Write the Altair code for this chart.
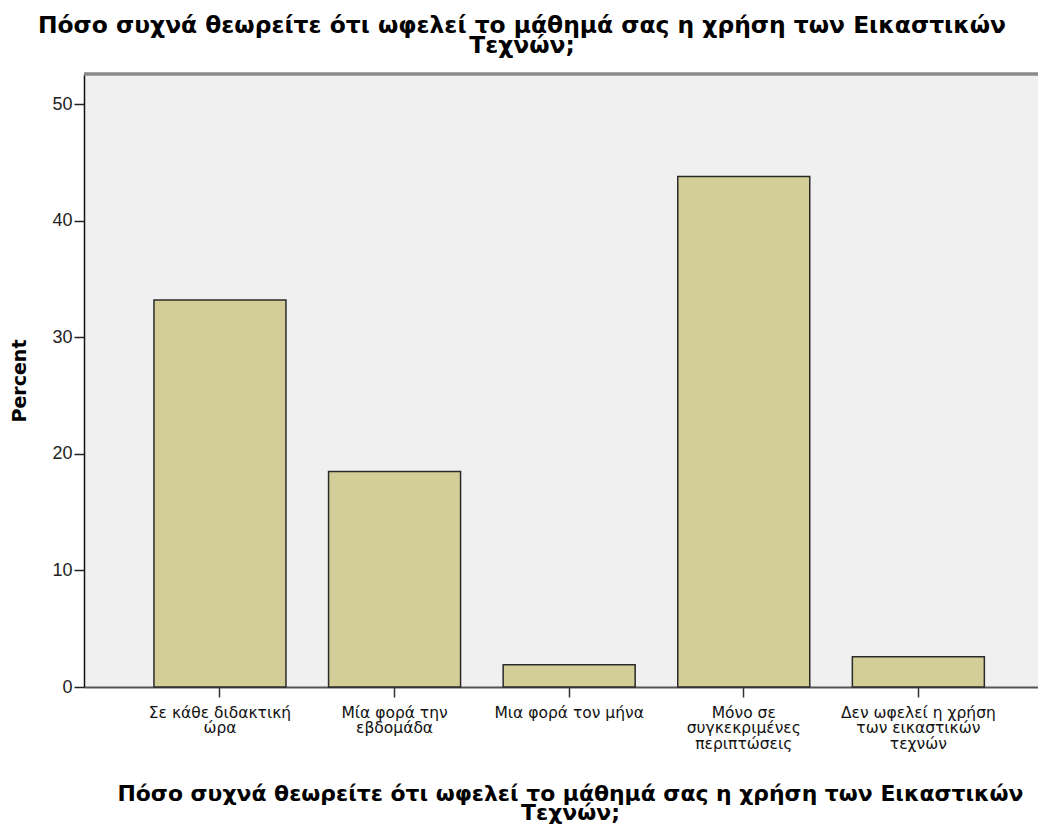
import altair as alt
import pandas as pd

categories = [
    "Σε κάθε διδακτική|ώρα",
    "Μία φορά την|εβδομάδα",
    "Μια φορά τον μήνα",
    "Μόνο σε|συγκεκριμένες|περιπτώσεις",
    "Δεν ωφελεί η χρήση|των εικαστικών|τεχνών",
]
percents = [33.2, 18.5, 1.9, 43.8, 2.6]
y_ticks = [0, 10, 20, 30, 40, 50]
title_lines = [
    "Πόσο συχνά θεωρείτε ότι ωφελεί το μάθημά σας η χρήση των Εικαστικών",
    "Τεχνών;",
]

df = pd.DataFrame({"cat": categories, "pct": percents})

TXT = "DejaVu Sans"
NUM = "Liberation Sans"
W, H = 954, 613

bars = (
    alt.Chart(df)
    .mark_bar(fill="#D3CE97", stroke="#2a2a2a", strokeWidth=1.5)
    .encode(
        x=alt.X(
            "cat:N",
            sort=categories,
            scale=alt.Scale(paddingInner=0.244, paddingOuter=0.354, align=0.566),
            axis=alt.Axis(
                title=title_lines,
                labelExpr="split(datum.label, '|')",
                labelAngle=0,
                labelFont=TXT,
                labelFontSize=15.5,
                labelLineHeight=15.5,
                labelColor="#111",
                labelPadding=8,
                labelBaseline="top",
                tickSize=10,
                tickColor="#333",
                tickWidth=1.5,
                domainColor="#555",
                domainWidth=2,
                titleFont=TXT,
                titleFontSize=21.9,
                titleFontWeight="bold",
                titleColor="#000",
                titleLineHeight=19,
                titlePadding=32,
                titleBaseline="top",
                titleX=486,
            ),
        ),
        y=alt.Y(
            "pct:Q",
            scale=alt.Scale(domain=[0, 52.6], nice=False, zero=True),
            axis=alt.Axis(
                title="Percent",
                values=y_ticks,
                format="d",
                labelFont=NUM,
                labelFontSize=18,
                labelColor="#222",
                labelPadding=2,
                tickSize=10,
                tickColor="#222",
                tickWidth=1.5,
                domainColor="#111",
                domainWidth=1.5,
                grid=False,
                titleFont=TXT,
                titleFontSize=19,
                titleFontWeight="bold",
                titleColor="#000",
                titlePadding=22,
            ),
        ),
    )
)

top_border = (
    alt.Chart(df)
    .mark_rule(color="#8a8a8a", strokeWidth=2.5)
    .encode(x=alt.value(0), x2=alt.value(W), y=alt.value(0))
)

chart = (
    alt.layer(bars, top_border)
    .properties(
        width=W,
        height=H,
        padding={"left": 76, "top": 66, "right": 0, "bottom": 140},
        autosize=alt.AutoSizeParams(type="none"),
        title=alt.TitleParams(
            text=title_lines,
            font=TXT,
            fontSize=23.4,
            fontWeight="bold",
            color="#000",
            anchor="middle",
            dx=-39,
            dy=26,
            offset=22,
            lineHeight=20,
            baseline="alphabetic",
        ),
    )
    .configure_view(fill="#F0F0F0", stroke="transparent", strokeWidth=0)
)

chart.save("out.html", embed_options={"renderer": "svg", "actions": False})
